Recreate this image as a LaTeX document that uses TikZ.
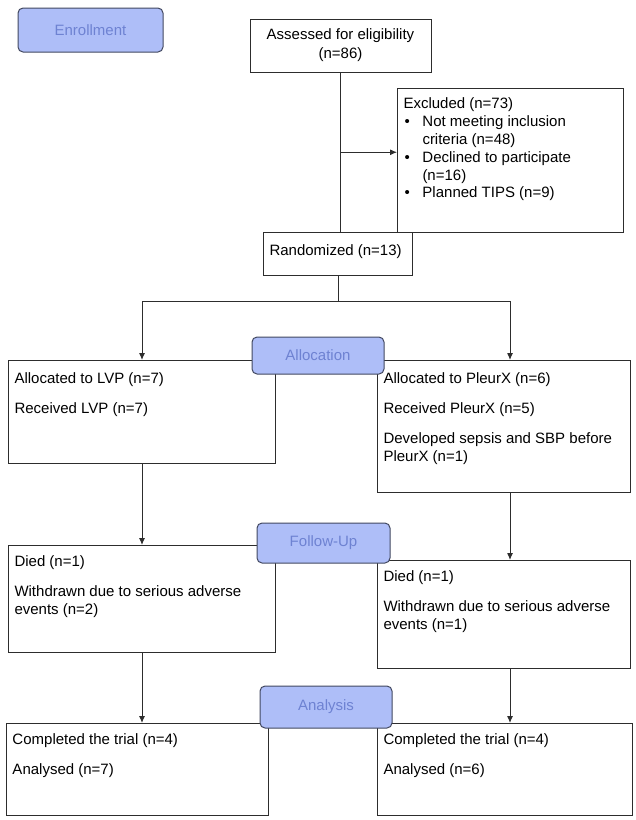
\documentclass[tikz,border=0pt]{standalone}
\usepackage{fontspec}
\setmainfont{Liberation Sans}
\usetikzlibrary{calc,arrows.meta}

\definecolor{stagefill}{RGB}{174,190,248}
\definecolor{stagetext}{RGB}{110,130,210}
\definecolor{stageline}{RGB}{66,72,96}
\definecolor{boxline}{RGB}{45,45,45}

\newcommand{\boxtext}[3]{\parbox[c][#2][t]{#1}{\raggedright\strut#3}}
\newcommand{\bulletitem}[1]{\par\hangindent=19pt\hangafter=1\noindent\hspace*{1pt}\makebox[18pt][l]{\textbullet}#1\par}

\tikzset{
	panel/.style={draw=boxline, line width=1pt, anchor=north west, inner xsep=6pt, inner ysep=11pt, font=\fontsize{15}{17.8}\selectfont},
	stage/.style={draw=stageline, line width=1pt, fill=stagefill, rounded corners=5pt, text=stagetext, font=\fontsize{15}{17}\selectfont},
	link/.style={draw=boxline, line width=1pt},
}

\begin{document}
\begin{tikzpicture}[x=1pt,y=-1pt,>={Latex[length=7pt,width=6pt]}]
			\useasboundingbox (0,0) rectangle (636,820);
			% enrollment
			\node[stage, minimum width=145pt, minimum height=44pt] (enroll) at (90.5,30) {Enrollment};
			\node[draw=boxline, line width=1pt, align=center, minimum width=181pt, minimum height=53pt, font=\fontsize{15}{19}\selectfont] (assess) at (340.5,45.5) {Assessed for eligibility\\(n=86)};
			\node[panel, inner ysep=8pt] (excl) at (397,88) {\boxtext{214pt}{128pt}{Excluded (n=73)
				\bulletitem{Not meeting inclusion\newline criteria (n=48)}
				\bulletitem{Declined to participate\newline (n=16)}
				\bulletitem{Planned TIPS (n=9)}}};
			\node[panel] (rand) at (263,232) {\boxtext{137pt}{21pt}{Randomized (n=13)}};
			\draw[link] (assess.south) -- (assess.south |- rand.north);
			\coordinate (split) at ($(assess.south)!.5!(assess.south |- rand.north)$);
			\draw[link, ->] (split) -- (split -| excl.west);
			% allocation
			\node[panel] (allocL) at (8,360) {\boxtext{255pt}{81pt}{Allocated to LVP (n=7)\\[12pt]
				Received LVP (n=7)}};
			\node[panel] (allocR) at (377,360) {\boxtext{241pt}{110pt}{Allocated to PleurX (n=6)\\[12pt]
				Received PleurX (n=5)\\[12pt]
				Developed sepsis and SBP before\\PleurX (n=1)}};
			\draw[link] (rand.south) -- ++(0,25) coordinate (fork);
			\draw[link, ->] (fork) -| (allocL.north);
			\draw[link, ->] (fork) -| ([xshift=6pt]allocR.north);
			\node[stage, minimum width=132pt, minimum height=37pt] (alloc) at (318,355.5) {Allocation};
			% follow-up
			\node[panel, inner ysep=9pt] (followL) at (8,545) {\boxtext{255pt}{89pt}{Died (n=1)\\[12pt]
				Withdrawn due to serious adverse\\events (n=2)}};
			\node[panel, inner ysep=9pt] (followR) at (377,560) {\boxtext{241pt}{90pt}{Died (n=1)\\[12pt]
				Withdrawn due to serious adverse\\events (n=1)}};
			\draw[link, ->] (allocL.south) -- (followL.north);
			\draw[link, ->] ([xshift=6pt]allocR.south) -- ([xshift=6pt]followR.north);
			\node[stage, minimum width=133pt, minimum height=40pt] (follow) at (323.5,543) {Follow-Up};
			% analysis
			\node[panel, inner ysep=9pt] (doneL) at (6,723) {\boxtext{250pt}{74pt}{Completed the trial (n=4)\\[12pt]
				Analysed (n=7)}};
			\node[panel, inner ysep=9pt] (doneR) at (377,723) {\boxtext{243pt}{74pt}{Completed the trial (n=4)\\[12pt]
				Analysed (n=6)}};
			\draw[link, ->] (followL.south) -- (followL.south |- doneL.north);
			\draw[link, ->] ([xshift=6pt]followR.south) -- ([xshift=6pt]followR.south |- doneR.north);
			\node[stage, minimum width=132pt, minimum height=42pt] (analysis) at (326,707) {Analysis};
			\end{tikzpicture}
\end{document}
